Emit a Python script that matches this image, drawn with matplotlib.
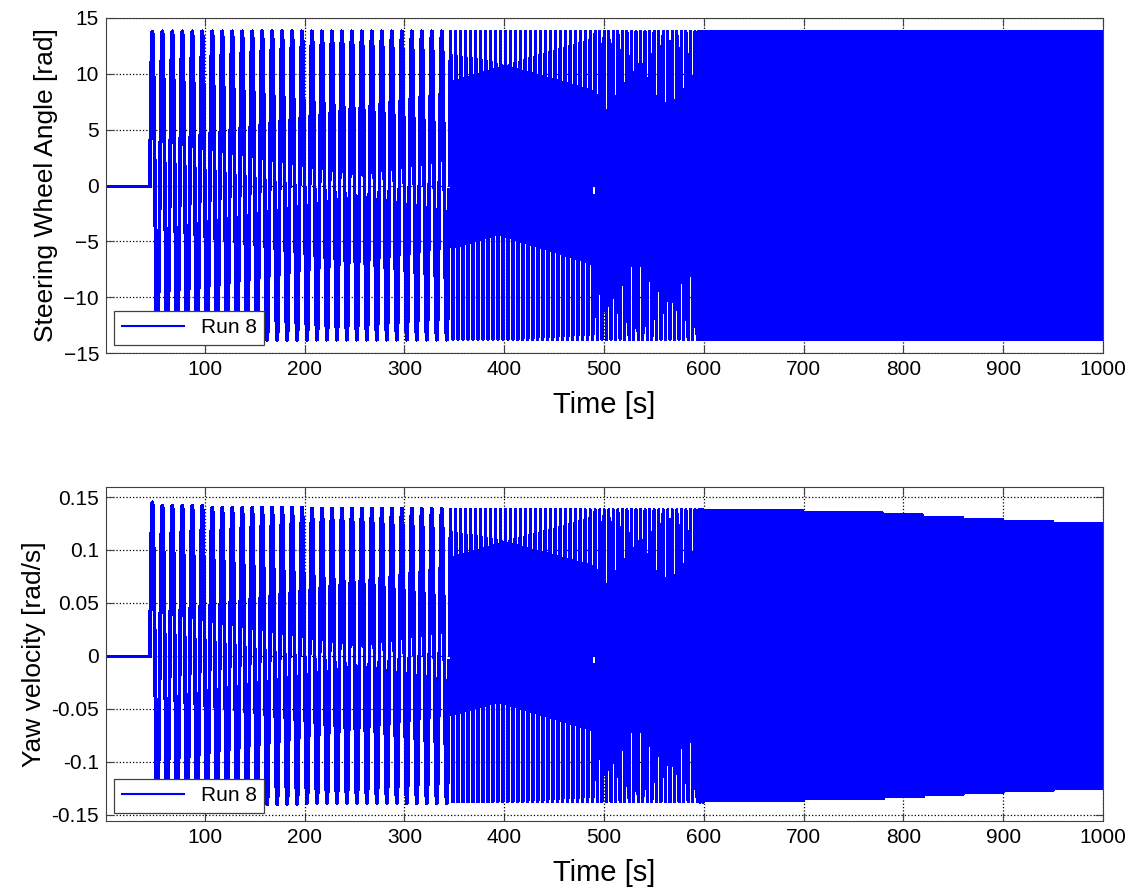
import numpy as np
import matplotlib
matplotlib.use("Agg")
from matplotlib import pyplot as plt

plt.rcParams['font.family'] = ['Liberation Sans', 'DejaVu Sans']

# run 8, logged every 0.05 s
t_first, t_last, dt = 1, 1000, 0.05
seg_start = [1, 45, 345, 490, 595]          # start of each test segment [s]
seg_freq = [0.0, 0.1, 0.2, 0.22, 0.8]        # steering frequency [Hz]
seg_lw = [2.0, 2.0, 1.5, 1.5, 2.0]           # drawn line width per segment
swa_amp = 13.8                               # steering amplitude [rad]

# yaw velocity peak level (step changes)
yaw_env_t = [1, 50, 100, 200, 345, 500, 600, 700, 780, 820, 860, 900, 950, 1000]
yaw_env = [0.145, 0.142, 0.140, 0.139, 0.138, 0.138, 0.137, 0.135, 0.133, 0.131,
           0.129, 0.127, 0.125, 0.122]

xticks = [100, 200, 300, 400, 500, 600, 700, 800, 900, 1000]
swa_ticks = [-15, -10, -5, 0, 5, 10, 15]
yaw_ticks = [-0.15, -0.1, -0.05, 0, 0.05, 0.1, 0.15]
yaw_ticklabels = ['-0.15', '-0.1', '-0.05', '0', '0.05', '0.1', '0.15']

t = np.arange(t_first, t_last + dt / 2, dt)
seg = np.searchsorted(seg_start, t, side='right') - 1
freq = np.array(seg_freq)[seg]
# phase runs on across the frequency steps
phase = np.concatenate([[0.0], np.cumsum(2 * np.pi * freq[:-1] * dt)])
swa = np.where(t >= seg_start[1], swa_amp * np.sin(phase), 0.0)

idx = np.searchsorted(yaw_env_t, t, side='right') - 1
yaw = swa / swa_amp * np.array(yaw_env)[idx]


def draw(ax, y):
    for i in range(len(seg_start)):
        a = seg_start[i]
        b = seg_start[i + 1] if i + 1 < len(seg_start) else t_last + 1
        m = (t >= a) & (t <= b)
        ax.plot(t[m], y[m], color='b', lw=seg_lw[i], antialiased=False,
                label='Run 8' if i == 0 else None)


def style(ax, ylabel):
    ax.set_xlim(t_first, t_last)
    ax.set_xticks(xticks)
    ax.grid(True, linestyle=':', color='k', linewidth=0.9)
    ax.tick_params(direction='in', top=True, right=True, labelsize=15, length=6,
                   color='#404040', pad=5)
    for s in ax.spines.values():
        s.set_color('#404040')
    ax.set_xlabel('Time [s]', fontsize=21, labelpad=9)
    ax.set_ylabel(ylabel, fontsize=19, labelpad=4)
    leg = ax.legend(loc='lower left', fontsize=15, fancybox=False, framealpha=1,
                    edgecolor='#404040', handlelength=3.0, borderaxespad=0.4,
                    borderpad=0.35)
    leg.get_frame().set_linewidth(0.9)
    leg.get_lines()[0].set_linewidth(1.5)


fig = plt.figure(figsize=(11.32, 8.94), dpi=100)
ax1 = fig.add_axes([0.0936, 0.6051, 0.8808, 0.3748])
draw(ax1, swa)
ax1.set_ylim(-15, 15)
ax1.set_yticks(swa_ticks)
style(ax1, 'Steering Wheel Angle [rad]')

ax2 = fig.add_axes([0.0936, 0.0817, 0.8808, 0.3736])
draw(ax2, yaw)
ax2.set_ylim(-0.156, 0.1595)
ax2.set_yticks(yaw_ticks)
ax2.set_yticklabels(yaw_ticklabels)
style(ax2, 'Yaw velocity [rad/s]')

fig.savefig('out.png', dpi=100)
